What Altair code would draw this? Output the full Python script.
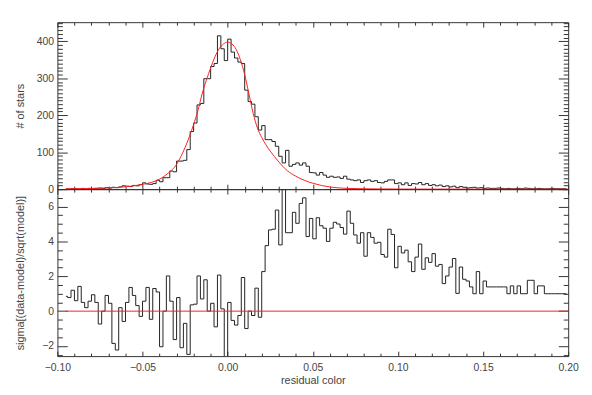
import altair as alt
import pandas as pd

# ---------------- data ----------------
BIN_START = -0.095   # centre of the first bin
BIN_WIDTH = 0.002

counts = [
    1, 0, 1, 1, 0, 2, 1, 2, 1, 2,
    3, 2, 4, 3, 5, 4, 6, 9, 8, 7,
    10, 9, 12, 17, 14, 13, 15, 24, 20, 31,
    31, 49, 47, 76, 76, 78, 107, 156, 179, 228,
    232, 299, 299, 332, 340, 415, 380, 348, 406, 371,
    355, 344, 340, 268, 237, 230, 196, 160, 172, 134,
    134, 129, 116, 89, 71, 105, 62, 67, 71, 65,
    71, 62, 45, 44, 38, 45, 38, 32, 35, 32,
    33, 29, 35, 27, 25, 23, 25, 18, 23, 25,
    21, 23, 18, 17, 21, 25, 25, 15, 17, 12,
    17, 10, 15, 14, 18, 12, 15, 10, 12, 9,
    11, 7, 9, 6, 8, 4, 7, 5, 3, 4,
    5, 3, 4, 2, 3, 2, 2, 3, 2, 1,
    2, 1, 1, 2, 1, 3, 2, 1, 1, 2,
    1, 1, 1, 2, 1, 1, 1, 1,
]

sigma = [
    0.85, 0.78, 1.2, 0.6, 1.42, 0.5, 0.2, 0.57, 0.94, 0.5,
    -0.74, 0.0, 0.9, 0.45, -1.85, -2.23, 0.2, -0.59, 0.5, 1.36,
    0.9, 0.32, -0.3, 0.57, 1.36, -0.47, 1.3, 1.1, -2.04, 0.0,
    2.02, 0.57, -1.63, 0.78, -2.1, -0.7, -2.48, 0.36, 0.4, 2.02,
    0.7, 1.8, 0.0, 0.45, -0.9, 2.07, 0.13, -2.6, 0.5, -0.53,
    -0.8, -0.25, 1.93, -1.0, 0.0, -0.25, 1.32, -0.35, 2.27, 3.76,
    4.66, 4.7, 5.8, 3.8, 7.1, 4.5, 4.5, 5.67, 5.04, 6.18,
    6.5, 4.28, 5.32, 4.15, 5.36, 4.9, 4.76, 4.0, 4.76, 5.1,
    5.0, 4.8, 4.42, 5.74, 5.04, 4.37, 3.9, 4.5, 3.15, 4.5,
    4.23, 3.9, 3.95, 3.25, 3.1, 4.7, 4.4, 2.49, 3.72, 3.34,
    3.5, 2.83, 2.27, 3.1, 3.85, 2.4, 3.06, 2.8, 3.3, 2.58,
    2.68, 1.58, 2.02, 2.53, 3.02, 1.02, 2.53, 1.83, 1.73, 1.39,
    1.0, 2.27, 1.0, 1.73, 1.39, 1.39, 1.39, 1.39, 1.39, 1.39,
    1.0, 1.45, 1.0, 1.45, 1.0, 1.0, 1.77, 1.77, 1.0, 1.45,
    1.45, 1.0, 1.0, 1.0, 1.0, 1.0, 1.0, 1.0,
]

model_x = [-0.095, -0.085, -0.075, -0.065, -0.06, -0.055, -0.05, -0.045, -0.04,
           -0.035, -0.03, -0.0275, -0.025, -0.0225, -0.02, -0.0175, -0.015,
           -0.0125, -0.01, -0.0075, -0.005, -0.0025, 0.0, 0.0025, 0.005, 0.0075,
           0.01, 0.0125, 0.015, 0.0175, 0.02, 0.0225, 0.025, 0.0275, 0.03, 0.035,
           0.04, 0.045, 0.05, 0.055, 0.06, 0.065, 0.07, 0.08, 0.09, 0.1, 0.12,
           0.15, 0.2]
model_y = [1, 1.5, 2.5, 4.5, 6.5, 9, 13, 18, 27,
           43, 67, 88, 113, 142, 175, 212, 258,
           295, 328, 358, 380, 393, 398, 393, 378, 350,
           310, 258, 205, 165, 140, 120, 103, 88, 74, 50,
           35, 24, 16, 10, 6, 3.5, 2, 1, 0.5, 0.3, 0.1,
           0.0, 0.0]

zero_line = {"x": [-0.095], "x2": [0.2], "y": [0.0]}

x_major = [-0.10, -0.05, 0.00, 0.05, 0.10, 0.15, 0.20]
x_minor = [round(-0.10 + 0.01 * i, 2) for i in range(31)]
ytop_major = [0, 100, 200, 300, 400]
ytop_minor = [10 * i for i in range(46)]
ybot_major = [-2, 0, 2, 4, 6]
ybot_minor = [-2.5 + 0.5 * i for i in range(20)]

# ---------------- tables ----------------
xc = [round(BIN_START + BIN_WIDTH * i, 4) for i in range(len(counts))]
hist_df = pd.DataFrame({"x": xc, "n": counts})
sig_df = pd.DataFrame({"x": xc, "s": sigma})
model_df = pd.DataFrame({"x": model_x, "n": model_y})
zero_df = pd.DataFrame(zero_line)

W, H = 517, 169
INK = "#333333"
TXT = "#444444"
RED = "#ff2020"
FONT = "Liberation Sans"

xscale = alt.Scale(domain=[-0.1, 0.2], nice=False, zero=False)
ytop_scale = alt.Scale(domain=[0, 452], nice=False, zero=False)
ybot_scale = alt.Scale(domain=[-2.58, 7.0], nice=False, zero=False)

X_TEST = "abs(datum.value*20 - round(datum.value*20)) < 0.001"
YT_TEST = "abs(datum.value/100 - round(datum.value/100)) < 0.001"
YB_TEST = "abs(datum.value/2 - round(datum.value/2)) < 0.001"


def tick_axis(orient, offset, values, test, major, minor):
    return alt.Axis(orient=orient, offset=offset, values=values, labels=False,
                    domain=False, grid=False, ticks=True, tickColor=INK, tickWidth=1,
                    tickSize={"condition": {"test": test, "value": major}, "value": minor})


def label_axis(orient, values, fmt, title, title_x=None, title_y=None, labels=True, pad=4):
    kw = dict(orient=orient, values=values, format=fmt, labels=labels, domain=False,
              grid=False, ticks=False, tickSize=0, labelPadding=pad, labelFlush=False,
              labelFont=FONT, labelFontSize=10.5, labelColor=TXT,
              titleFont=FONT, titleFontSize=11, titleColor=TXT, titleFontWeight="normal")
    if title is not None:
        kw["title"] = title
        if title_x is not None:
            kw["titleX"] = title_x
        if title_y is not None:
            kw["titleY"] = title_y
    return alt.Axis(**kw)


# ---------------- top panel ----------------
top_extra = alt.Chart(model_df).mark_line(opacity=0, clip=True).encode(
    x=alt.X("x:Q", scale=xscale, title=None,
            axis=tick_axis("top", -H, x_minor, X_TEST, 5, 3)),
    y=alt.Y("n:Q", scale=ytop_scale, title=None,
            axis=tick_axis("left", -W, ytop_minor, YT_TEST, 10, 5)),
)
top_hist = alt.Chart(hist_df).mark_line(interpolate="step", strokeWidth=1, clip=True).encode(
    x=alt.X("x:Q", scale=xscale, title=None,
            axis=tick_axis("bottom", -H, x_minor, X_TEST, 5, 3)),
    y=alt.Y("n:Q", scale=ytop_scale,
            axis=label_axis("left", ytop_major, "d", "# of stars", -32, H / 2)),
    color=alt.value("#222222"),
)
top_model = alt.Chart(model_df).mark_line(interpolate="monotone", strokeWidth=1, clip=True).encode(
    x=alt.X("x:Q", scale=xscale, title=None, axis=None),
    y=alt.Y("n:Q", scale=ytop_scale, title=None,
            axis=tick_axis("right", -W, ytop_minor, YT_TEST, 10, 5)),
    color=alt.value(RED),
)
top = alt.layer(top_extra, top_hist, top_model).resolve_axis(
    x="independent", y="independent").properties(width=W, height=H)

# ---------------- bottom panel ----------------
bot_extra = alt.Chart(sig_df).mark_line(opacity=0, clip=True).encode(
    x=alt.X("x:Q", scale=xscale, title=None,
            axis=tick_axis("top", -H, x_minor, X_TEST, 5, 3)),
    y=alt.Y("s:Q", scale=ybot_scale, title=None,
            axis=tick_axis("left", -W, ybot_minor, YB_TEST, 10, 5)),
)
bot_sig = alt.Chart(sig_df).mark_line(interpolate="step", strokeWidth=1, clip=True).encode(
    x=alt.X("x:Q", scale=xscale,
            axis=label_axis("bottom", x_major, ".2f", "residual color", W / 2, 19, pad=7)),
    y=alt.Y("s:Q", scale=ybot_scale,
            axis=label_axis("left", ybot_major, "d", "sigma[(data-model)/sqrt(model)]", -32, H / 2)),
    color=alt.value("#222222"),
)
bot_zero = alt.Chart(zero_df).mark_rule(strokeWidth=1).encode(
    x=alt.X("x:Q", scale=xscale, title=None,
            axis=tick_axis("bottom", -H, x_minor, X_TEST, 5, 3)),
    x2="x2:Q",
    y=alt.Y("y:Q", scale=ybot_scale, title=None,
            axis=tick_axis("right", -W, ybot_minor, YB_TEST, 10, 5)),
    color=alt.value(RED),
)
bottom = alt.layer(bot_extra, bot_sig, bot_zero).resolve_axis(
    x="independent", y="independent").properties(width=W, height=H)

chart = alt.vconcat(top, bottom, spacing=0, bounds="flush").properties(
    padding={"left": 6, "top": 11, "right": 5, "bottom": 5},
    background="white",
).configure_view(stroke=INK, strokeWidth=1).configure_concat(spacing=0)

chart.save("out.html", embed_options={"renderer": "svg", "actions": False})
